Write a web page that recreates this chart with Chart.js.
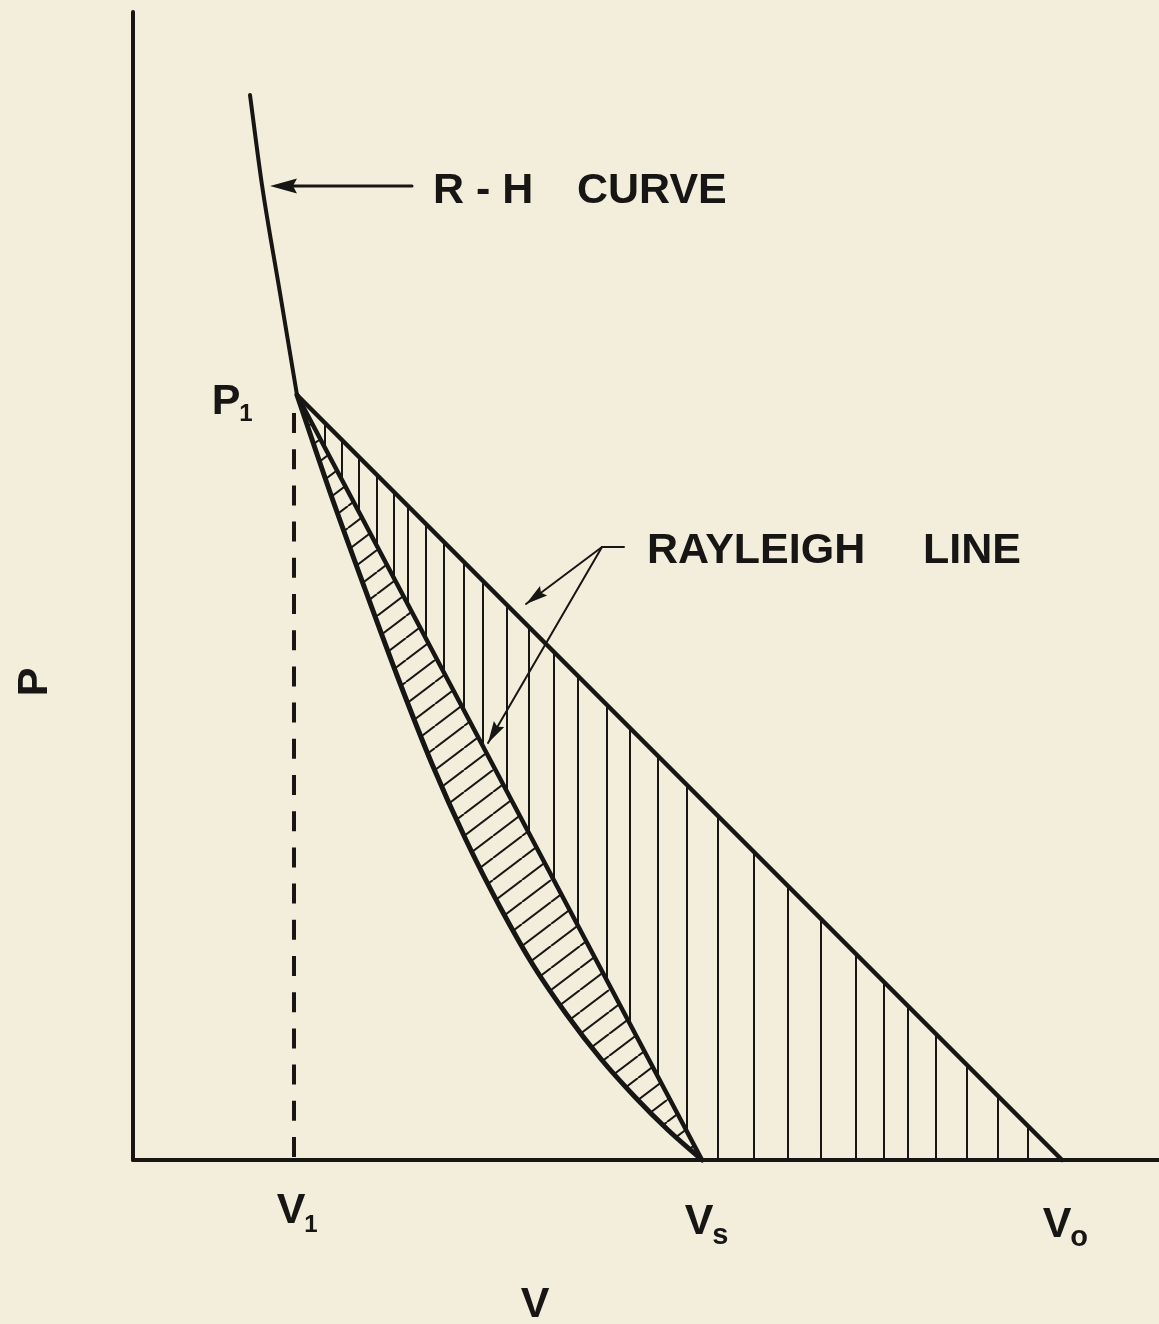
<!DOCTYPE html>
<html>
<head>
<meta charset="utf-8">
<script src="https://cdn.jsdelivr.net/npm/chart.js"></script>
<style>
  html, body { margin: 0; padding: 0; overflow: hidden; background: #f3eedc; }
</style>
</head>
<body>
<canvas id="rhChart" width="1159" height="1324"></canvas>
<script>
// drawing units: V to the right, P upward, origin at the corner of the axes
var vMax = 10.26;
var pMax = 11.48;

// key points of the diagram
var v1 = 1.64, p1 = 7.65;
var vs = 5.69;
var vo = 9.29;
var vDash = 1.61, pDashTop = 7.47;

// R-H curve above P1
var rhUpperV = [1.17, 1.29, 1.47, 1.64];
var rhUpperP = [10.65, 9.75, 8.67, 7.65];
// R-H curve from P1 down to Vs
var rhLowerV = [1.64, 1.98, 2.32, 2.65, 2.99, 3.33, 3.67, 4.00, 4.34, 4.68, 5.02, 5.35, 5.69];
var rhLowerP = [7.65, 6.65, 5.71, 4.82, 3.96, 3.20, 2.53, 1.95, 1.45, 1.01, 0.63, 0.30, 0];

// vertical hatching between the two Rayleigh lines (and V axis past Vs)
var hatchV = [1.92, 2.09, 2.26, 2.44, 2.61, 2.75, 2.93, 3.11, 3.31, 3.50, 3.74, 3.96, 4.21, 4.45,
              4.74, 4.97, 5.25, 5.54, 5.85, 6.21, 6.55, 6.88, 7.23, 7.51, 7.75, 8.03, 8.34, 8.65, 8.95];

// lettering
var wordText = ['R - H', 'CURVE', 'RAYLEIGH', 'LINE'];
var wordV = [3.00, 4.44, 5.14, 7.90];
var wordP = [9.57, 9.57, 5.97, 5.97];

var markText = ['P', 'V', 'V', 'V'];
var markSub = ['1', '1', 's', 'o'];
var markV = [0.93, 1.58, 5.66, 9.24];
var markP = [7.46, -0.63, -0.74, -0.77];
var subDrop = [0.07, 0.09, 0.10, 0.09];
var subSize = [24, 24, 29, 29];

var vTitle = 'V', vTitlePos = [4.02, -1.57];
var pTitle = 'P', pTitlePos = [-0.86, 4.78];

// leader arrows: [tailV, tailP, tipV, tipP]
var rhArrow = [2.79, 9.74, 1.37, 9.74];
var rayleighLeader = [4.91, 6.13, 4.69, 6.13];
var rayleighTips = [[3.93, 5.56], [3.55, 4.17]];

var ink = '#171614';

function pts(vs_, ps_) {
  return vs_.map(function (v, i) { return { x: v, y: ps_[i] }; });
}

function lineP(v, va, pa, vb, pb) {
  return pa + (pb - pa) * (v - va) / (vb - va);
}

var hatchPoints = [];
hatchV.forEach(function (v) {
  var top = lineP(v, v1, p1, vo, 0);
  var bottom = v < vs ? lineP(v, v1, p1, vs, 0) : 0;
  hatchPoints.push({ x: v, y: top }, { x: v, y: bottom }, { x: v, y: null });
});

function diagonalHatch() {
  var w = 29, h = 22;
  var c = document.createElement('canvas');
  c.width = w; c.height = h;
  var g = c.getContext('2d');
  g.strokeStyle = ink;
  g.lineWidth = 2;
  [-w, 0, w].forEach(function (dx) {
    g.beginPath();
    g.moveTo(dx, h);
    g.lineTo(dx + w, 0);
    g.stroke();
  });
  return g.createPattern(c, 'repeat');
}

function arrowHead(ctx, fx, fy, tx, ty, len, half) {
  var a = Math.atan2(ty - fy, tx - fx);
  ctx.save();
  ctx.translate(tx, ty);
  ctx.rotate(a);
  ctx.beginPath();
  ctx.moveTo(0, 0);
  ctx.lineTo(-len, -half);
  ctx.lineTo(-len * 0.85, 0);
  ctx.lineTo(-len, half);
  ctx.closePath();
  ctx.fill();
  ctx.restore();
}

var lettering = {
  id: 'lettering',
  afterDraw: function (chart) {
    var ctx = chart.ctx;
    var X = function (v) { return chart.scales.x.getPixelForValue(v); };
    var Y = function (p) { return chart.scales.y.getPixelForValue(p); };
    var face = '"Liberation Sans", Arial, sans-serif';
    var big = 'bold 43px ' + face;
    ctx.save();
    ctx.fillStyle = ink;
    ctx.strokeStyle = ink;
    ctx.lineCap = 'round';

    // arrows
    ctx.lineWidth = 3;
    ctx.beginPath();
    ctx.moveTo(X(rhArrow[0]), Y(rhArrow[1]));
    ctx.lineTo(X(rhArrow[2]) + 20, Y(rhArrow[3]));
    ctx.stroke();
    arrowHead(ctx, X(rhArrow[0]), Y(rhArrow[1]), X(rhArrow[2]), Y(rhArrow[3]), 27, 7.5);

    ctx.lineWidth = 2;
    ctx.beginPath();
    ctx.moveTo(X(rayleighLeader[0]), Y(rayleighLeader[1]));
    ctx.lineTo(X(rayleighLeader[2]), Y(rayleighLeader[3]));
    ctx.stroke();
    rayleighTips.forEach(function (t) {
      ctx.beginPath();
      ctx.moveTo(X(rayleighLeader[2]), Y(rayleighLeader[3]));
      ctx.lineTo(X(t[0]), Y(t[1]));
      ctx.stroke();
      arrowHead(ctx, X(rayleighLeader[2]), Y(rayleighLeader[3]), X(t[0]), Y(t[1]), 22, 6);
    });

    // words
    ctx.font = big;
    ctx.textBaseline = 'alphabetic';
    ctx.textAlign = 'left';
    wordText.forEach(function (t, i) {
      ctx.fillText(t, X(wordV[i]), Y(wordP[i]));
    });

    // point labels with subscripts
    markText.forEach(function (t, i) {
      ctx.font = big;
      ctx.textAlign = 'center';
      var x = X(markV[i]), y = Y(markP[i]);
      ctx.fillText(t, x, y);
      var w = ctx.measureText(t).width;
      ctx.font = 'bold ' + subSize[i] + 'px ' + face;
      ctx.textAlign = 'left';
      ctx.fillText(markSub[i], x + w / 2 - 1, Y(markP[i] - subDrop[i]));
    });

    // axis titles
    ctx.font = big;
    ctx.textAlign = 'center';
    ctx.fillText(vTitle, X(vTitlePos[0]), Y(vTitlePos[1]));
    ctx.save();
    ctx.translate(X(pTitlePos[0]), Y(pTitlePos[1]));
    ctx.rotate(-Math.PI / 2);
    ctx.fillText(pTitle, 0, 0);
    ctx.restore();

    ctx.restore();
  }
};

var ctx = document.getElementById('rhChart').getContext('2d');

var chart = new Chart(ctx, {
  type: 'line',
  data: {
    datasets: [
      { data: [{ x: 0, y: 0 }, { x: vMax, y: 0 }], borderWidth: 4 },
      { data: [{ x: 0, y: 0 }, { x: 0, y: pMax }], borderWidth: 4 },
      { data: [{ x: vDash, y: pDashTop }, { x: vDash, y: 0 }], borderWidth: 4, borderDash: [20, 16.2], borderCapStyle: 'butt' },
      { data: [{ x: v1, y: p1 }, { x: vs, y: 0 }], borderWidth: 4.5 },
      { data: [{ x: v1, y: p1 }, { x: vo, y: 0 }], borderWidth: 4.5 },
      { data: pts(rhUpperV, rhUpperP), borderWidth: 4, cubicInterpolationMode: 'monotone' },
      { data: pts(rhLowerV, rhLowerP), borderWidth: 5, cubicInterpolationMode: 'monotone',
        fill: { target: 3 }, backgroundColor: diagonalHatch() },
      { data: hatchPoints, borderWidth: 2, borderCapStyle: 'butt' }
    ]
  },
  options: {
    responsive: false,
    animation: false,
    clip: false,
    layout: { padding: { left: 133, top: 12, right: 0, bottom: 164 } },
    datasets: { line: { borderColor: ink, pointRadius: 0, borderCapStyle: 'round', borderJoinStyle: 'round', fill: false, clip: false } },
    plugins: { legend: { display: false }, tooltip: { enabled: false } },
    scales: {
      x: { type: 'linear', min: 0, max: vMax, display: false },
      y: { type: 'linear', min: 0, max: pMax, display: false }
    }
  },
  plugins: [lettering]
});
</script>
</body>
</html>
